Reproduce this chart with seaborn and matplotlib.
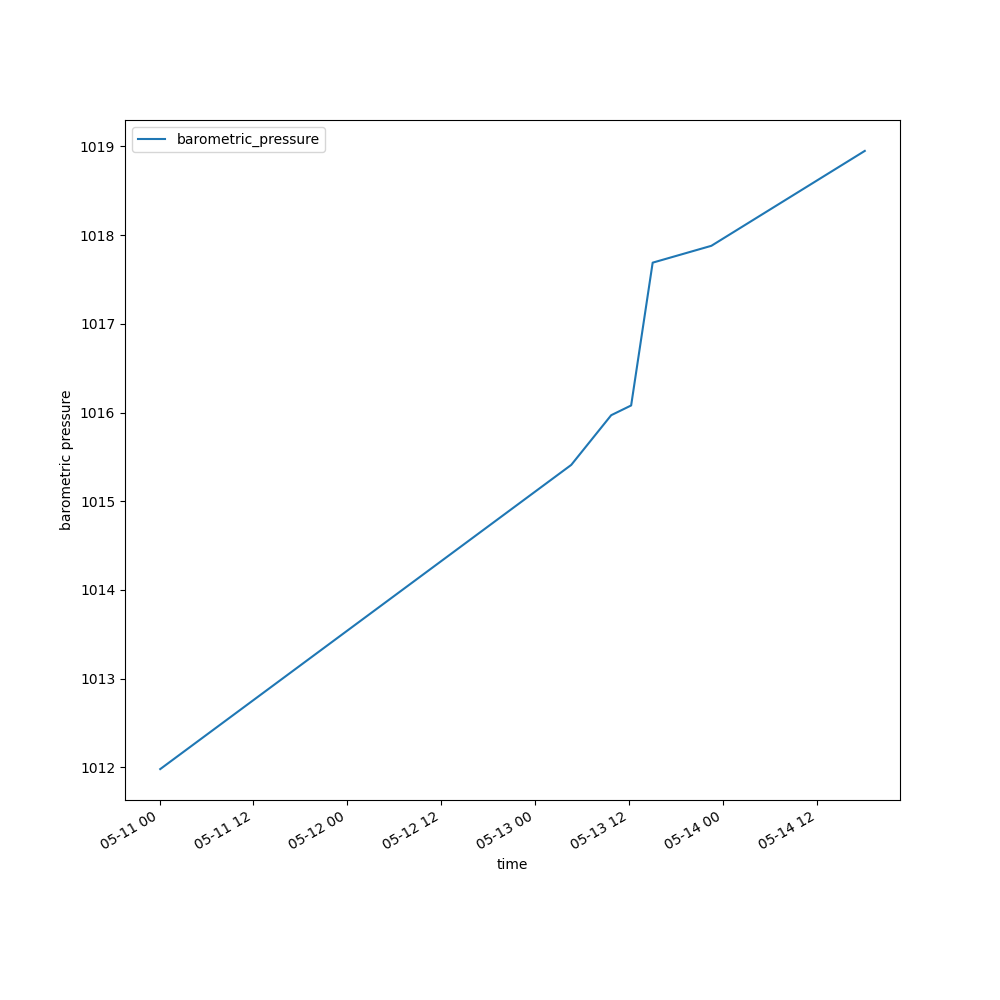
import pandas as pd
import seaborn as sns
import matplotlib
matplotlib.use("Agg")
import matplotlib.pyplot as plt

times = ["2023-05-11 00:05", "2023-05-13 04:36", "2023-05-13 09:42", "2023-05-13 12:15",
         "2023-05-13 15:00", "2023-05-13 22:30", "2023-05-14 18:06"]
pressure = [1011.98, 1015.41, 1015.97, 1016.08, 1017.69, 1017.88, 1018.95]

df = pd.DataFrame({"time": pd.to_datetime(times), "barometric_pressure": pressure})

fig, ax = plt.subplots(figsize=(10, 10), dpi=100)
sns.lineplot(data=df, x="time", y="barometric_pressure", ax=ax, label="barometric_pressure")
ax.set_xlabel("time")
ax.set_ylabel("barometric pressure")
ax.legend(loc="upper left")
fig.autofmt_xdate()
fig.savefig("out.png")
